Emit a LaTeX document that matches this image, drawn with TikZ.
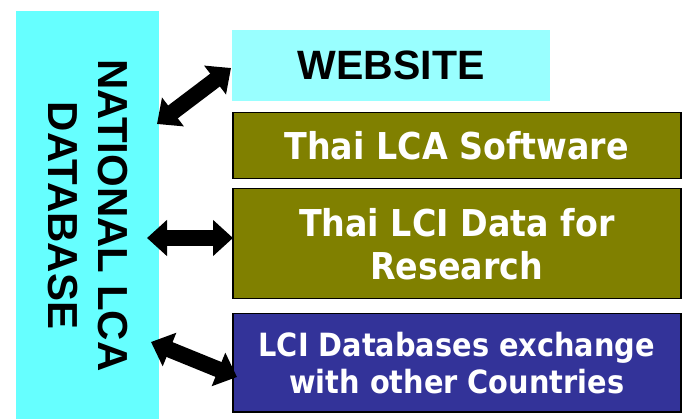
\documentclass[tikz,border=0pt]{standalone}
\usepackage{fontspec}
\usetikzlibrary{arrows.meta}
\newfontfamily\headfont{Liberation Sans}
\newfontfamily\boxfont[FakeStretch=0.9]{DejaVu Sans}
\definecolor{dbcyan}{HTML}{66FFFF}
\definecolor{webcyan}{HTML}{99FFFF}
\definecolor{boxolive}{HTML}{808000}
\definecolor{boxblue}{HTML}{333399}
\tikzset{
  panel/.style={draw=black, line width=1.5pt, inner sep=0pt, anchor=north west,
    align=center, text=white},
  bigarrow/.style={line width=16pt,
    {Triangle[width=35pt,length=20pt]}-{Triangle[width=35pt,length=20pt]}},
}
\begin{document}
\begin{tikzpicture}[x=1pt,y=-1pt]
\useasboundingbox (0,0) rectangle (693,419);
% national database column
\node[fill=dbcyan, inner sep=0pt, minimum width=143pt, minimum height=408pt,
  anchor=north west] (db) at (16,11) {};
\node[rotate=-90, align=center, font=\headfont\bfseries\fontsize{42}{50}\selectfont]
  (dbtext) at (88,215.5) {NATIONAL LCA\\DATABASE};
% services
\node[fill=webcyan, inner sep=0pt, minimum width=318pt, minimum height=71pt,
  anchor=north west, font=\headfont\bfseries\fontsize{41}{48}\selectfont]
  (web) at (232,30) {WEBSITE};
\node[panel, fill=boxolive, minimum width=448pt, minimum height=66pt,
  font=\boxfont\bfseries\fontsize{37}{43}\selectfont] (soft) at (232,112) {Thai LCA Software};
\node[panel, fill=boxolive, minimum width=448pt, minimum height=110pt,
  font=\boxfont\bfseries\fontsize{37}{43}\selectfont] (data) at (232,188) {Thai LCI Data for\\Research};
\node[panel, fill=boxblue, minimum width=448pt, minimum height=98pt,
  font=\boxfont\bfseries\fontsize{32}{37}\selectfont] (xchg) at (232,313) {LCI Databases exchange\\with other Countries};
% arrow ends
\coordinate (a1) at (157,124);
\coordinate (b1) at (231,68);
\coordinate (a2) at (147,238);
\coordinate (b2) at (233,238);
\coordinate (a3) at (151,342);
\coordinate (b3) at (237,377);
\draw[bigarrow] (a1) -- (b1);
\draw[bigarrow] (a2) -- (b2);
\draw[bigarrow] (a3) -- (b3);
\end{tikzpicture}
\end{document}
